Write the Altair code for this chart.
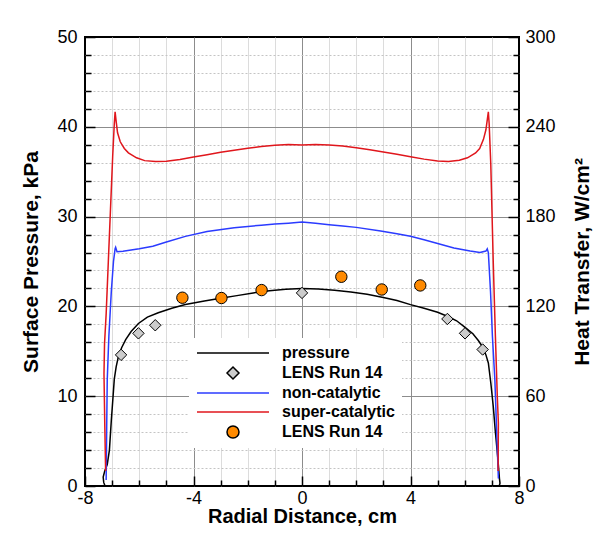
import altair as alt
import pandas as pd

FONT = "Liberation Sans"

# ---- computed surface pressure (kPa) ----
x_pressure = [-7.26, -7.31, -7.33, -7.27, -7.18, -7.10, -7.03, -6.96, -6.92, -6.85, -6.77, -6.65,
              -6.50, -6.30, -6.03, -5.70, -5.30, -4.80, -4.30, -3.60, -3.00, -2.40, -1.80, -1.20,
              -0.60, 0.00, 0.60, 1.20, 1.80, 2.40, 3.00, 3.50, 4.00, 4.50, 5.00, 5.40, 5.70,
              6.00, 6.30, 6.50, 6.68, 6.78, 6.87, 6.96, 7.05, 7.13, 7.21, 7.26, 7.28, 7.30, 7.27]
p_pressure = [0.0, 0.4, 1.0, 1.7, 2.4, 4.0, 7.3, 10.2, 11.9, 13.3, 14.4, 15.4,
              16.3, 17.2, 18.1, 18.8, 19.3, 19.8, 20.2, 20.6, 20.9, 21.2, 21.5, 21.75,
              21.9, 22.0, 21.95, 21.8, 21.6, 21.35, 21.0, 20.65, 20.2, 19.8, 19.35, 18.85, 18.4,
              17.7, 16.95, 16.2, 15.4, 14.6, 13.7, 11.5, 8.9, 6.0, 3.4, 1.6, 0.8, 0.3, 0.0]

# ---- LENS Run 14 pressure (kPa) ----
lens_p_x = [-6.67, -6.03, -5.41, 0.0, 5.36, 6.01, 6.66]
lens_p_y = [14.6, 17.0, 17.9, 21.5, 18.6, 17.0, 15.2]

# ---- non-catalytic heat transfer (W/cm2) ----
x_noncat = [-7.22, -7.21, -7.20, -7.18, -7.12, -7.03, -6.95, -6.89, -6.87, -6.82, -6.60, -6.00,
            -5.50, -5.00, -4.30, -3.50, -2.50, -1.50, -1.00, -0.50, 0.00, 0.50, 1.00, 1.50,
            2.00, 2.90, 3.50, 4.00, 4.50, 5.00, 5.60, 6.20, 6.56, 6.78, 6.83, 6.87, 6.95,
            7.02, 7.11, 7.17, 7.21, 7.24]
q_noncat = [4, 20, 40, 71, 100, 130, 150, 158.5, 159.5, 156.5, 156.8, 158.5,
            160.2, 163, 166.8, 170, 172.5, 174.3, 175.0, 175.6, 176.4, 175.5, 174.6, 173.8,
            172.8, 170.4, 168.5, 166.8, 164.5, 162, 159, 157, 156, 157, 158.5, 156, 130,
            100, 71, 40, 20, 5]

# ---- super-catalytic heat transfer (W/cm2) ----
x_supercat = [-7.24, -7.27, -7.30, -7.28, -7.22, -7.14, -7.06, -6.98, -6.92, -6.89, -6.86, -6.80,
              -6.70, -6.55, -6.40, -6.10, -5.80, -5.40, -5.00, -4.50, -4.00, -3.50, -3.00, -2.50,
              -2.00, -1.50, -1.00, -0.50, 0.00, 0.50, 1.00, 1.50, 2.00, 2.50, 3.00, 3.50, 4.00,
              4.50, 5.00, 5.40, 5.80, 6.10, 6.40, 6.55, 6.69, 6.78, 6.84, 6.87, 6.90, 6.96,
              7.05, 7.13, 7.20, 7.24, 7.23]
q_supercat = [10, 40, 75, 95, 115, 150, 185, 220, 242, 250, 245, 236,
              230, 225.5, 222.6, 219.3, 217.4, 216.8, 217.0, 218.2, 219.8, 221.4, 223.0, 224.4,
              225.7, 226.8, 227.7, 228.2, 227.8, 228.2, 227.9, 227.2, 226.0, 224.6, 223.1, 221.6, 220.0,
              218.4, 217.2, 216.8, 217.6, 219.3, 222.5, 225.5, 231.6, 238, 246, 250, 242, 215,
              150, 100, 60, 42, 10]

# ---- LENS Run 14 heat transfer (W/cm2) ----
lens_q_x = [-4.41, -2.97, -1.49, 1.45, 2.94, 4.36]
lens_q_y = [125.8, 125.6, 130.9, 139.8, 131.3, 134.0]

# ---- legend entries / styling ----
series_names = ["pressure", "LENS Run 14", "non-catalytic", "super-catalytic", "LENS Run 14 "]
stroke_colors = ["#000000", "#000000", "#2b3bff", "#e0161c", "#000000"]
fill_colors = ["transparent", "#cccccc", "transparent", "transparent", "#ff8a00"]
legend_shapes = ["M-6,0L6,0", "diamond", "M-6,0L6,0", "M-6,0L6,0", "circle"]

# ---- axis tick values ----
x_major = [-8, -4, 0, 4, 8]
x_minor = [-7, -6, -5, -3, -2, -1, 1, 2, 3, 5, 6, 7]
p_major = [0, 10, 20, 30, 40, 50]
p_minor = [2, 4, 6, 8, 12, 14, 16, 18, 22, 24, 26, 28, 32, 34, 36, 38, 42, 44, 46, 48]
q_major = [0, 60, 120, 180, 240, 300]
q_minor = [12, 24, 36, 48, 72, 84, 96, 108, 132, 144, 156, 168, 192, 204, 216, 228, 252, 264, 276, 288]


def frame(xs, ys, name):
    return pd.DataFrame({"x": xs, "v": ys, "i": list(range(len(xs))), "series": name})


df_p = frame(x_pressure, p_pressure, series_names[0])
df_lp = frame(lens_p_x, lens_p_y, series_names[1])
df_nc = frame(x_noncat, q_noncat, series_names[2])
df_sc = frame(x_supercat, q_supercat, series_names[3])
df_lq = frame(lens_q_x, lens_q_y, series_names[4])

xscale = alt.Scale(domain=[-8, 8], nice=False, zero=False)
pscale = alt.Scale(domain=[0, 50], nice=False, zero=False)
qscale = alt.Scale(domain=[0, 300], nice=False, zero=False)

leg = alt.Legend(
    orient="none", legendX=104, legendY=301, title=None, fillColor="white", padding=7,
    symbolSize=144, symbolStrokeWidth=1.5, symbolOffset=29, labelOffset=41,
    labelFont=FONT, labelFontSize=16, labelFontWeight="bold", labelColor="black",
    rowPadding=3, symbolFillColor="transparent", symbolStrokeColor="black",
)
stroke_enc = alt.Stroke("series:N", scale=alt.Scale(domain=series_names, range=stroke_colors), legend=leg)
fill_enc = alt.Fill("series:N", scale=alt.Scale(domain=series_names, range=fill_colors), legend=leg)
shape_enc = alt.Shape("series:N", scale=alt.Scale(domain=series_names, range=legend_shapes), legend=leg)

label_style = dict(labelFont=FONT, labelFontSize=18, labelColor="black", labelFlush=False,
                   labelOverlap=False, labelExpr="'' + datum.value")
title_style = dict(titleFont=FONT, titleFontSize=21, titleFontWeight="bold", titleColor="black")
tick_style = dict(tickColor="black", tickWidth=1.5, domain=False)

ax_x_main = alt.Axis(
    orient="bottom", values=x_major, offset=-10, tickSize=10, labelPadding=3, title="Radial Distance, cm",
    titlePadding=-1, grid=True, gridColor="#8c8c8c", gridWidth=1,
    gridOpacity={"condition": {"test": "datum.value == -8 || datum.value == 8", "value": 0}, "value": 1},
    **label_style, **{**title_style, "titleFontSize": 20}, **tick_style,
)
ax_x_minor = alt.Axis(
    orient="bottom", values=x_minor, offset=-6, tickSize=6, labels=False, title=None,
    grid=True, gridColor="#dcdcdc", gridWidth=1, **tick_style,
)
ax_left_main = alt.Axis(
    orient="left", values=p_major, offset=-10, tickSize=10, labelPadding=8, title="Surface Pressure, kPa",
    titlePadding=15, grid=True, gridColor="#8c8c8c", gridWidth=1,
    gridOpacity={"condition": {"test": "datum.value == 0 || datum.value == 50", "value": 0}, "value": 1},
    **label_style, **title_style, **tick_style,
)
ax_left_minor = alt.Axis(
    orient="left", values=p_minor, offset=-6, tickSize=6, labels=False, title=None,
    grid=True, gridColor="#c4c4c4", gridWidth=1, gridDash=[2, 2], **tick_style,
)
ax_right_main = alt.Axis(
    orient="right", values=q_major, offset=-11, tickSize=11, labelPadding=6,
    title="Heat Transfer, W/cm\u00b2", titleAngle=270, titleBaseline="top", titlePadding=16,
    grid=False, **label_style, **title_style, **tick_style,
)
ax_right_minor = alt.Axis(
    orient="right", values=q_minor, offset=-6, tickSize=6, labels=False, title=None, grid=False,
    **tick_style,
)

line_p = alt.Chart(df_p).mark_line(strokeWidth=1.5).encode(
    x=alt.X("x:Q", scale=xscale, axis=ax_x_main),
    y=alt.Y("v:Q", scale=pscale, axis=ax_left_main),
    order=alt.Order("i:Q"),
    stroke=stroke_enc,
)
pts_p = alt.Chart(df_lp).mark_point(filled=True, opacity=1, size=130, strokeWidth=1).encode(
    x=alt.X("x:Q", scale=xscale, axis=ax_x_minor),
    y=alt.Y("v:Q", scale=pscale, axis=ax_left_minor),
    fill=fill_enc,
    stroke=stroke_enc,
    shape=shape_enc,
)
line_nc = alt.Chart(df_nc).mark_line(strokeWidth=1.5).encode(
    x=alt.X("x:Q", scale=xscale, axis=None),
    y=alt.Y("v:Q", scale=qscale, axis=ax_right_main),
    order=alt.Order("i:Q"),
    stroke=stroke_enc,
)
line_sc = alt.Chart(df_sc).mark_line(strokeWidth=1.5).encode(
    x=alt.X("x:Q", scale=xscale, axis=None),
    y=alt.Y("v:Q", scale=qscale, axis=ax_right_minor),
    order=alt.Order("i:Q"),
    stroke=stroke_enc,
)
pts_q = alt.Chart(df_lq).mark_point(filled=True, opacity=1, size=130, strokeWidth=1).encode(
    x=alt.X("x:Q", scale=xscale, axis=None),
    y=alt.Y("v:Q", scale=qscale, axis=None),
    fill=fill_enc,
    stroke=stroke_enc,
    shape=shape_enc,
)

chart = (
    alt.layer(line_p, pts_p, line_nc, line_sc, pts_q)
    .resolve_scale(y="independent")
    .resolve_axis(x="independent", y="independent")
    .properties(
        width=434, height=449,
        padding={"left": 77, "top": 29, "right": 77, "bottom": 42},
        autosize=alt.AutoSizeParams(type="none"),
        background="white",
    )
    .configure_view(stroke="black", strokeWidth=2)
)

chart.save("out.html", embed_options={"renderer": "svg", "actions": False})
